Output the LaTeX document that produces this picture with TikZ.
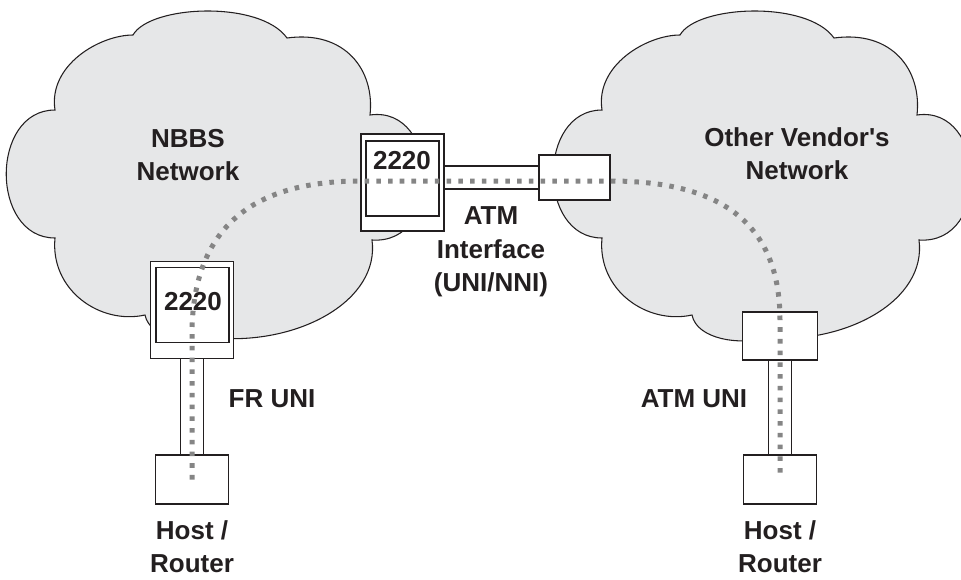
\documentclass[tikz,border=0pt]{standalone}
\usepackage{fontspec}
\setmainfont{Liberation Sans}
\usetikzlibrary{positioning}
\definecolor{cloudgray}{HTML}{E6E7E8}
\definecolor{dotgray}{HTML}{858585}
\definecolor{ink}{HTML}{231F20}

\begin{document}
\begin{tikzpicture}[x=0.75pt,y=-0.75pt,on grid,
font=\fontsize{19.5}{25}\selectfont\bfseries, text=ink,
cloud/.style={fill=cloudgray, draw=ink, line width=0.8pt},
outerbox/.style={draw=ink, fill=white, line width=1.1pt, inner sep=0pt,
  minimum width=62.25pt, minimum height=72.75pt},
innerbox/.style={draw=ink, line width=1.1pt, inner sep=0pt,
  minimum width=54.75pt, minimum height=56.25pt},
portbox/.style={draw=ink, fill=white, line width=1.1pt, inner sep=0pt},
link/.style={draw=ink, line width=1.1pt, double=white, double distance=16.1pt},
trace/.style={draw=dotgray, line width=3.75pt, dash pattern=on 3.4pt off 5.4pt},
lbl/.style={align=center, inner sep=0pt}]
\clip (0,0) rectangle (961,579);
% the two clouds
\foreach \dx in {0,547}
  \draw[cloud, shift={(\dx,0)}] (55,110) .. controls (48,65) and (100,35) .. (133,35)
    .. controls (150,5) and (260,0) .. (287,38)
    .. controls (345,30) and (375,70) .. (370,115)
    .. controls (440,105) and (445,245) .. (372,240)
    .. controls (380,300) and (300,345) .. (215,338)
    .. controls (195,345) and (150,340) .. (145,315)
    .. controls (100,325) and (50,290) .. (55,238)
    .. controls (-10,238) and (-10,110) .. (55,110) -- cycle;
\node[lbl] (nbbs) at (188,155) {NBBS\\Network};
\node[lbl] (other) at (797,154) {Other Vendor\textquotesingle s\\Network};
% switches and ports
\node[outerbox] (swA) at (402.5,182.5) {};
\node[innerbox] (swAin) at (402.5,178.5) {};
\node[portbox, minimum width=53.25pt, minimum height=33.75pt] (port) at (574.5,177.5) {};
\node[outerbox] (swB) at (192,310) {};
\node[innerbox] (swBin) at (192.5,305) {};
\node[portbox, minimum width=56.25pt, minimum height=36pt] (atmport) at (780,336) {};
\node[portbox, minimum width=54.75pt, minimum height=36.75pt] (hostL) at (192,479.5) {};
\node[portbox, minimum width=54.75pt, minimum height=36.75pt] (hostR) at (780,479.5) {};
% links
\draw[link] (port.west) -- (port.west -| swA.east);
\draw[link] (swB.south) -- (hostL.north);
\draw[link] (atmport.south) -- (hostR.north);
% labels
\node[lbl] (swAtxt) at (402,161) {2220};
\node[lbl] (swBtxt) at (193,302) {2220};
\node[lbl] (atmif) at (491,252) {ATM\\Interface\\(UNI/NNI)};
\node[lbl] (frtxt) at (272,399) {FR UNI};
\node[lbl] (atmtxt) at (694,399) {ATM UNI};
\node[lbl, below = 50.5pt of hostL] (hostLtxt) {Host /\\Router};
\node[lbl, below = 50.5pt of hostR] (hostRtxt) {Host /\\Router};
% the path through both networks
\coordinate (bendL) at (192,330);
\coordinate (bendR) at (780,320);
\draw[trace] (hostL.center) -- (bendL) .. controls (194,225) and (255,181) .. (361,181)
  -- (610,181) .. controls (710,181) and (780,215) .. (bendR) -- (hostR.center);
\end{tikzpicture}
\end{document}
